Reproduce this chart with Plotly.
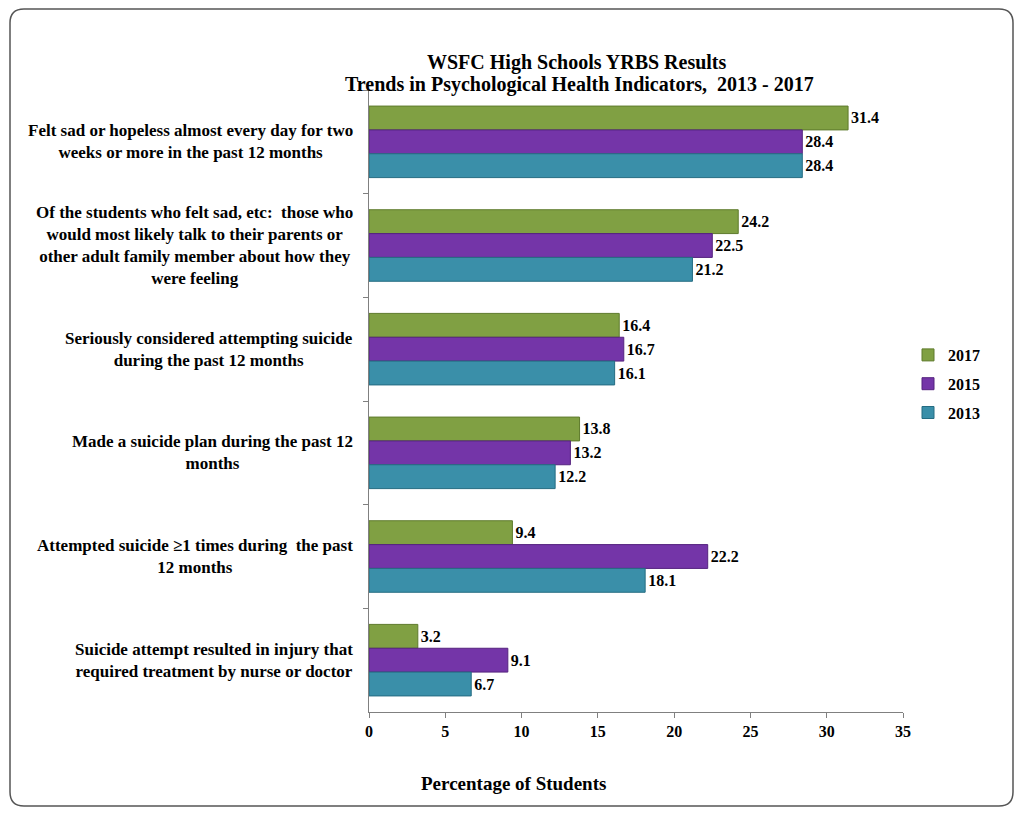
import plotly.graph_objects as go

categories = [
    "Felt sad or hopeless almost every day for two<br>weeks or more in the past 12 months",
    "Of the students who felt sad, etc:  those who<br>would most likely talk to their parents or<br>other adult family member about how they<br>were feeling",
    "Seriously considered attempting suicide<br>during the past 12 months",
    "Made a suicide plan during the past 12<br>months",
    "Attempted suicide \u22651 times during  the past<br>12 months",
    "Suicide attempt resulted in injury that<br>required treatment by nurse or doctor",
]
cat_keys = ["c1", "c2", "c3", "c4", "c5", "c6"]
years = ["2017", "2015", "2013"]
v2017 = [31.4, 24.2, 16.4, 13.8, 9.4, 3.2]
v2015 = [28.4, 22.5, 16.7, 13.2, 22.2, 9.1]
v2013 = [28.4, 21.2, 16.1, 12.2, 18.1, 6.7]
series = [v2017, v2015, v2013]
colors = ["#80A043", "#7435A8", "#3A8FA9"]
line_colors = ["#5E7A2C", "#55237F", "#256C82"]
x_ticks = [0, 5, 10, 15, 20, 25, 30, 35]

OFF = 8  # page body margin
W, H = 1023 - 2 * OFF, 816 - 2 * OFF
# plot area in page pixel coordinates
L, R, T, B = 369, 903, 90, 712

FONT = "Liberation Serif, Times New Roman, serif"

fig = go.Figure()
for yr, vals, c, lc in zip(years, series, colors, line_colors):
    fig.add_trace(go.Bar(
        y=cat_keys, x=vals, name="<b>" + yr + "</b>", orientation="h",
        legendgroup=yr,
        marker=dict(color=c, line=dict(color=lc, width=1)),
        text=[f"<b>{v:.1f}</b>" for v in vals], textposition="outside",
        textfont=dict(family=FONT, size=16, color="black"),
        cliponaxis=False,
    ))

def px(x):
    return (x - L) / (R - L)

def py(y):
    return (B - y) / (B - T)

n = len(categories)
annotations = []
for i, lab in enumerate(categories):
    yc = T + (i + 0.5) * (B - T) / n
    annotations.append(dict(
        x=px(355), y=py(yc), xref="paper", yref="paper",
        text="<b>" + lab + "</b>", showarrow=False,
        xanchor="right", yanchor="middle", align="center",
        font=dict(family=FONT, size=17, color="black"),
    ))
annotations.append(dict(
    x=px(513), y=py(783), xref="paper", yref="paper",
    text="<b>Percentage of Students</b>", showarrow=False,
    xanchor="center", yanchor="middle",
    font=dict(family=FONT, size=19, color="black"),
))
annotations.append(dict(
    x=px(577), y=py(62), xref="paper", yref="paper",
    text="<b>WSFC High Schools YRBS Results</b>",
    showarrow=False, xanchor="center", yanchor="middle",
    font=dict(family=FONT, size=20, color="black"),
))
annotations.append(dict(
    x=px(579), y=py(85), xref="paper", yref="paper",
    text="<b>Trends in Psychological Health Indicators,  2013 - 2017</b>",
    showarrow=False, xanchor="center", yanchor="middle",
    font=dict(family=FONT, size=20, color="black"),
))

# rounded frame (page pixel coordinates, kept inside the figure)
x0, y0, x1, y1, r = 10, 9, 1013, 806, 14
def P(x, y):
    return f"{px(x):.5f},{py(y):.5f}"
path = (f"M {P(x0 + r, y0)} L {P(x1 - r, y0)} Q {P(x1, y0)} {P(x1, y0 + r)} "
        f"L {P(x1, y1 - r)} Q {P(x1, y1)} {P(x1 - r, y1)} "
        f"L {P(x0 + r, y1)} Q {P(x0, y1)} {P(x0, y1 - r)} "
        f"L {P(x0, y0 + r)} Q {P(x0, y0)} {P(x0 + r, y0)} Z")

fig.update_layout(
    width=W, height=H,
    margin=dict(l=L - OFF, r=(1023 - R) - OFF, t=T - OFF, b=(816 - OFF) - B, autoexpand=False),
    paper_bgcolor="white", plot_bgcolor="white",
    barmode="group", bargap=0.31, bargroupgap=0.0,
    showlegend=True,
    legend=dict(
        x=px(908), y=py(338), xref="paper", yref="paper",
        xanchor="left", yanchor="top",
        font=dict(family=FONT, size=16, color="black"),
        itemwidth=30, traceorder="grouped", tracegroupgap=5,
        bgcolor="rgba(0,0,0,0)",
    ),
    annotations=annotations,
    shapes=[dict(type="path", path=path, xref="paper", yref="paper",
                 line=dict(color="#555555", width=1.5), layer="below")],
    xaxis=dict(
        range=[0, 35], tickvals=x_ticks, ticktext=[f"<b>{t}</b>" for t in x_ticks],
        showgrid=False, zeroline=False, showline=True, linecolor="#808080",
        ticks="outside", ticklen=5, tickcolor="#808080",
        tickfont=dict(family=FONT, size=16, color="black"),
    ),
    yaxis=dict(
        categoryorder="array", categoryarray=cat_keys, autorange="reversed",
        showticklabels=False, showgrid=False, zeroline=False,
        showline=True, linecolor="#808080",
        ticks="outside", ticklen=5, tickcolor="#808080", tickson="boundaries",
    ),
)

fig.write_html("out.html")
